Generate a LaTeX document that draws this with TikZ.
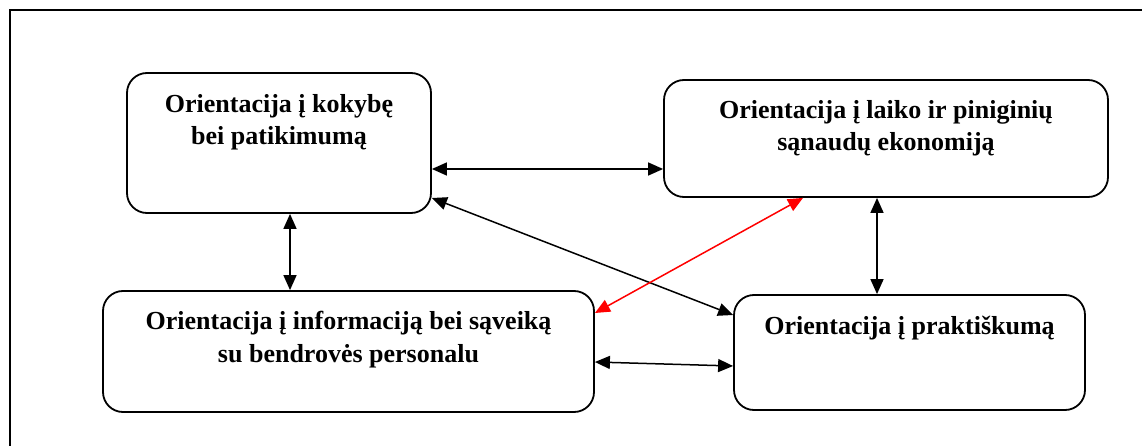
\documentclass[tikz,border=0pt]{standalone}
\usepackage{fontspec}
\setmainfont{Liberation Serif}
\usetikzlibrary{arrows.meta}
\begin{document}
\begin{tikzpicture}[x=1pt,y=-1pt,
  box/.style={draw, line width=1.8pt, rounded corners=20pt, inner sep=0pt},
  lbl/.style={font=\fontsize{26}{30}\selectfont\bfseries, inner sep=0pt, anchor=base},
  link/.style={line width=1.5pt, {Triangle[length=15pt,width=13pt]}-{Triangle[length=15pt,width=13pt]}},
  redlink/.style={link, draw=red, fill=red}]
\useasboundingbox (0,0) rectangle (1142,446);
% outer frame, running off the page at right and bottom
\draw[line width=1.8pt] (10,460) -- (10,10) -- (1160,10);

% the four orientation boxes
\node[box, minimum width=304pt, minimum height=140pt] (A) at (279,143) {};
\node[box, minimum width=444pt, minimum height=117pt] (B) at (886,138.5) {};
\node[box, minimum width=491pt, minimum height=121pt] (C) at (348.5,351.5) {};
\node[box, minimum width=351pt, minimum height=115pt] (D) at (909.5,352.5) {};

% box texts
\node[lbl] (A1) at (279,113) {Orientacija į kokybę};
\node[lbl] (A2) at (279,145) {bei patikimumą};
\node[lbl] (B1) at (886,119) {Orientacija į laiko ir piniginių};
\node[lbl] (B2) at (886,151) {sąnaudų ekonomiją};
\node[lbl] (C1) at (348.5,329) {Orientacija į informaciją bei sąveiką};
\node[lbl] (C2) at (348.5,362) {su bendrovės personalu};
\node[lbl] (D1) at (909.5,334) {Orientacija į praktiškumą};

% connectors
\draw[link] ([yshift=-26pt]A.east) -- ([yshift=-26pt]A.east -| B.west);
\draw[link] ([xshift=11pt]A.south) -- ([xshift=11pt]A.south |- C.north);
\draw[link] ([xshift=-9pt]B.south) -- ([xshift=-9pt]B.south |- D.north);
\draw[link] ([yshift=-55pt]A.east) -- ([yshift=37.5pt]D.west);
\draw[redlink] ([xshift=-83pt]B.south) -- ([yshift=38.5pt]C.east);
\draw[link] ([yshift=-10.5pt]C.east) -- ([yshift=-13.5pt]D.west);
\end{tikzpicture}
\end{document}
